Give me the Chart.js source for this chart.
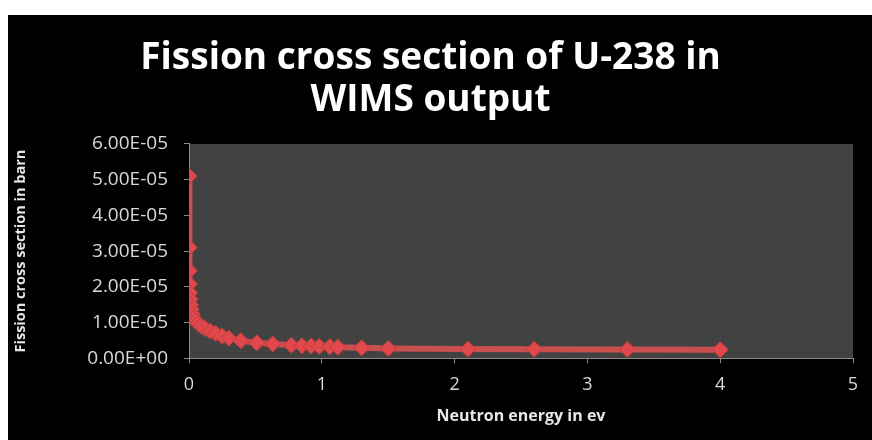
<!DOCTYPE html>
<html>
<head>
<meta charset="utf-8">
<script src="https://cdn.jsdelivr.net/npm/chart.js@4"></script>
<style>
  html, body { margin: 0; padding: 0; background: #fff; }
  #wrap { position: absolute; left: 8px; top: 15px; width: 864px; height: 425px; background: #000; }
</style>
</head>
<body>
<div id="wrap"><canvas id="chart"></canvas></div>
<script>
const energy = [0.001, 0.002, 0.003, 0.004, 0.005, 0.008, 0.012, 0.018, 0.025, 0.035, 0.05, 0.07, 0.09, 0.12, 0.16, 0.2, 0.25, 0.3, 0.39, 0.51, 0.63, 0.77, 0.85, 0.92, 0.98, 1.06, 1.12, 1.3, 1.5, 2.1, 2.6, 3.3, 4.0];
const crossSection = [5.1e-5, 3.1e-5, 2.45e-5, 2.08e-5, 1.83e-5, 1.65e-5, 1.5e-5, 1.36e-5, 1.23e-5, 1.12e-5, 1.04e-5, 0.97e-5, 0.9e-5, 0.83e-5, 0.76e-5, 0.7e-5, 0.62e-5, 0.56e-5, 0.49e-5, 0.43e-5, 0.4e-5, 0.36e-5, 0.35e-5, 0.34e-5, 0.33e-5, 0.32e-5, 0.31e-5, 0.29e-5, 0.27e-5, 0.255e-5, 0.25e-5, 0.245e-5, 0.24e-5];
const titleLines = ["Fission cross section of U-238 in", "WIMS output"];

const points = energy.map((x, i) => ({ x, y: crossSection[i] }));

function sciLabel(v) {
  if (v === 0) return "0.00E+00";
  const [m, e] = v.toExponential(2).toUpperCase().split("E");
  const n = parseInt(e, 10);
  return m + "E" + (n < 0 ? "-" : "+") + String(Math.abs(n)).padStart(2, "0");
}

const plotBg = {
  id: "plotBg",
  beforeDraw(chart) {
    const { ctx, chartArea: a } = chart;
    ctx.save();
    ctx.fillStyle = "#424242";
    ctx.fillRect(a.left, a.top, a.right - a.left, a.bottom - a.top);
    ctx.restore();
  }
};

new Chart(document.getElementById("chart"), {
  type: "scatter",
  data: {
    datasets: [{
      data: points,
      showLine: true,
      borderColor: "#c9504f",
      borderWidth: 6,
      pointStyle: "rectRot",
      pointRadius: 8,
      pointBackgroundColor: "#e0484b",
      pointBorderColor: "#c23e40",
      pointBorderWidth: 1
    }]
  },
  options: {
    responsive: true,
    maintainAspectRatio: false,
    animation: false,
    layout: { padding: { left: 0, right: 19, top: 0, bottom: 10 } },
    plugins: {
      legend: { display: false },
      tooltip: { enabled: false },
      title: {
        display: true,
        text: titleLines,
        color: "#ffffff",
        font: { family: "Open Sans", size: 37, weight: "bold", lineHeight: 1.135 },
        padding: { top: 22, bottom: 23 }
      }
    },
    scales: {
      x: {
        type: "linear",
        min: 0,
        max: 5,
        ticks: { stepSize: 1, color: "#d9d9d9", font: { family: "Open Sans", size: 18 }, padding: 11 },
        grid: { drawOnChartArea: false, color: "#8a8a8a", tickLength: 5 },
        border: { color: "#8a8a8a" },
        title: { display: true, text: "Neutron energy in ev", color: "#e6e6e6", font: { family: "Open Sans", size: 16, weight: "bold" }, padding: { top: 0, bottom: 4 } }
      },
      y: {
        min: 0,
        max: 6e-5,
        afterFit(scale) { scale.width = 181; },
        ticks: { stepSize: 1e-5, color: "#d9d9d9", font: { family: "Open Sans", size: 19 }, callback: v => sciLabel(v), padding: 16 },
        grid: { drawOnChartArea: false, color: "#8a8a8a", tickLength: 5 },
        border: { color: "#8a8a8a" },
        title: { display: true, text: "Fission cross section in barn", color: "#e6e6e6", font: { family: "Open Sans", size: 14.5, weight: "bold" }, padding: { bottom: 8 } }
      }
    }
  },
  plugins: [plotBg]
});
</script>
</body>
</html>
